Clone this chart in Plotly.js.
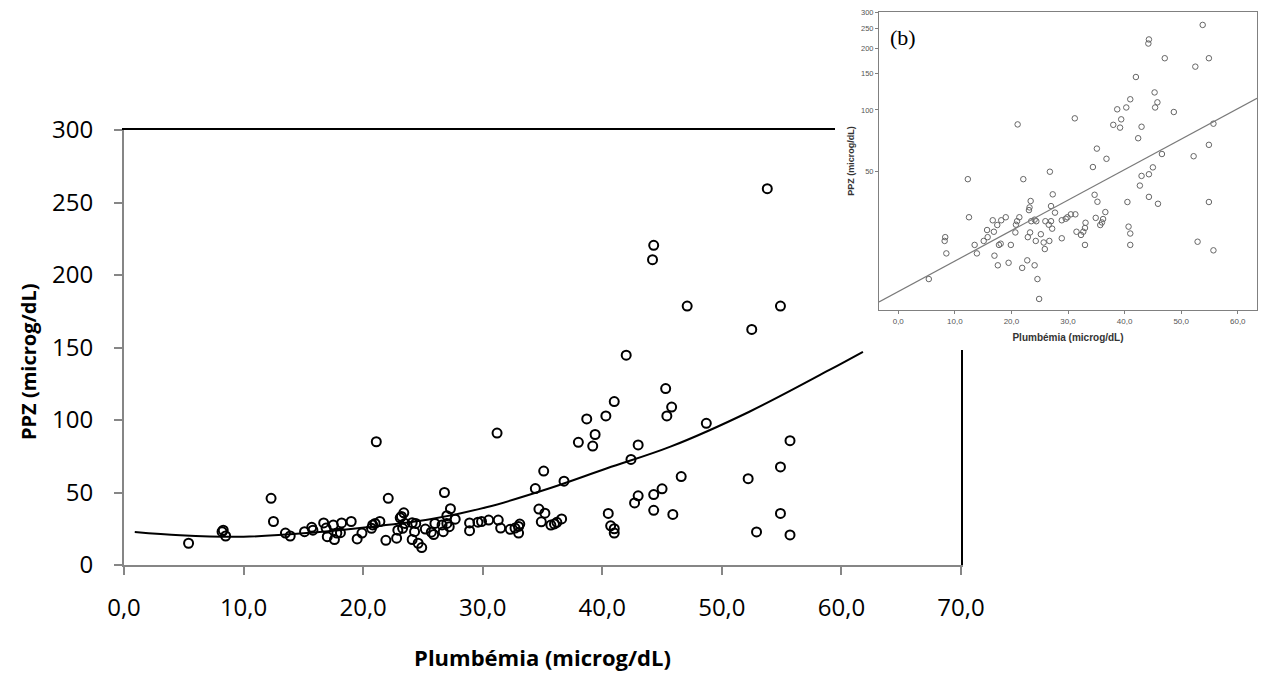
<!DOCTYPE html>
<html><head><meta charset="utf-8">
<script src="https://cdn.plot.ly/plotly-3.0.1.min.js"></script>
<style>html,body{margin:0;padding:0;background:#fff}#chart{width:1266px;height:675px}</style>
</head><body><div id="chart"></div>
<script>
// ---- data ----
const plumbemia = [5.4, 8.2, 8.3, 8.5, 12.3, 12.5, 13.5, 13.9, 15.1, 15.7, 15.8, 16.7, 16.9, 17.0, 17.5, 17.6, 17.8, 18.1, 18.2, 19.0,
  19.5, 19.9, 20.7, 20.8, 21.0, 21.1, 21.4, 21.9, 22.1, 22.8, 22.9, 23.1, 23.2, 23.4, 23.3, 23.5, 24.1, 24.4, 24.3, 24.1,
  24.6, 24.9, 25.2, 25.7, 25.9, 26.0, 26.6, 26.7, 26.8, 27.0, 27.2, 27.0, 27.3, 27.7, 28.9, 28.9, 29.6, 29.9, 30.5, 31.2,
  31.3, 31.5, 32.3, 32.7, 33.0, 33.1, 33.0, 34.4, 34.7, 35.2, 34.9, 35.1, 35.7, 36.0, 36.2, 36.6, 36.8, 38.0, 38.7, 39.2,
  39.4, 40.3, 40.5, 40.7, 41.0, 41.0, 41.0, 42.0, 42.4, 42.7, 43.0, 43.0, 44.2, 44.3, 44.3, 44.3, 45.0, 45.3, 45.4, 45.8,
  45.9, 46.6, 47.1, 48.7, 52.2, 52.5, 52.9, 53.8, 54.9, 54.9, 54.9, 55.7, 55.7];
const ppz = [15, 23, 24, 20, 46, 30, 22, 20, 23, 26, 24, 29, 25.5, 19.5, 27.5, 17.5, 22, 22.3, 29, 30,
  18, 22, 25.3, 27.6, 28.7, 85, 30, 17, 46, 18.5, 24, 32.5, 33.5, 36, 25.3, 28.7, 29.2, 28.7, 23, 17.5,
  15, 12, 24.8, 22.6, 21, 28.7, 27.6, 23, 50, 28.7, 26.4, 34, 38.8, 31.6, 29, 23.7, 29.5, 30, 31, 91,
  31, 25.5, 24.6, 25.5, 26.6, 28.2, 22, 52.7, 38.6, 35.7, 29.8, 64.8, 27.5, 28.3, 29.4, 31.8, 57.8, 84.6, 100.7, 82,
  90, 102.8, 35.6, 27, 25, 22, 112.7, 144.7, 72.8, 42.8, 47.7, 82.8, 210.6, 220.5, 48.6, 37.7, 52.5, 121.7, 102.8, 108.9,
  34.9, 61, 178.6, 97.7, 59.5, 162.5, 22.8, 259.5, 178.6, 67.6, 35.6, 85.7, 20.7];

// fitted curve of the main chart
const curveX = [0.9, 4.7, 10.0, 15.6, 20.3, 25.6, 30.3, 35.6, 40.4, 45.7, 52.3, 59.0, 61.8];
const curveY = [22.8, 20.5, 19.5, 22.2, 26.0, 31.5, 39.8, 52.9, 66.7, 81.6, 105.7, 134.5, 147];

// fitted line of inset (b), end points
const fitBX = [-3.4, 63.4];
const fitBY = [11.6, 114];

const xTickVals = [0, 10, 20, 30, 40, 50, 60, 70];
const xTickText = ['0,0', '10,0', '20,0', '30,0', '40,0', '50,0', '60,0', '70,0'];
const yTickVals = [0, 50, 100, 150, 200, 250, 300];
const insetXTickVals = [0, 10, 20, 30, 40, 50, 60];
const insetXTickText = ['0,0', '10,0', '20,0', '30,0', '40,0', '50,0', '60,0'];
const insetYTickVals = [50, 100, 150, 200, 250, 300];
const insetYTickText = ['50', '100', '150', '200', '250', '300'];

// ---- layout helpers (pixel -> paper) ----
const W = 1266, H = 675;
const px = v => v / W;
const py = v => 1 - v / H;

const FONT = 'Open Sans, sans-serif';
const SMALL = 'Liberation Sans, Arial, sans-serif';
const AX = '#868686';

const traces = [
  { x: plumbemia, y: ppz, type: 'scatter', mode: 'markers', xaxis: 'x', yaxis: 'y',
    marker: { symbol: 'circle-open', size: 9, color: '#000', line: { width: 2, color: '#000' } } },
  { x: curveX, y: curveY, type: 'scatter', mode: 'lines', xaxis: 'x', yaxis: 'y',
    line: { color: '#000', width: 2, shape: 'spline' } },
  { x: [], y: [], type: 'scatter', mode: 'markers', xaxis: 'x4', yaxis: 'y' },
  { x: [], y: [], type: 'scatter', mode: 'markers', xaxis: 'x', yaxis: 'y4' },
  { x: [], y: [], type: 'scatter', mode: 'markers', xaxis: 'x2', yaxis: 'y2' },
  { x: plumbemia, y: ppz, type: 'scatter', mode: 'markers', xaxis: 'x3', yaxis: 'y3',
    marker: { symbol: 'circle-open', size: 5.5, color: '#666', line: { width: 1, color: '#666' } } },
  { x: fitBX, y: fitBY, type: 'scatter', mode: 'lines', xaxis: 'x3', yaxis: 'y3',
    line: { color: '#7a7a7a', width: 1.2 } }
];

const layout = {
  width: W, height: H, margin: { l: 0, r: 0, t: 0, b: 0 },
  paper_bgcolor: '#fff', plot_bgcolor: '#fff', showlegend: false, hovermode: false,
  xaxis: {
    domain: [px(124), px(961)], anchor: 'y', range: [0, 70],
    showline: true, linecolor: AX, linewidth: 2, showgrid: false, zeroline: false,
    ticks: 'outside', ticklen: 8, tickwidth: 2, tickcolor: AX,
    tickmode: 'array', tickvals: xTickVals, ticktext: xTickText, ticklabelstandoff: 12,
    tickfont: { family: FONT, size: 24, color: '#000' },
    title: { text: 'Plumbémia (microg/dL)', standoff: 29, font: { family: FONT, size: 22, weight: 'bold', color: '#000' } }
  },
  yaxis: {
    domain: [py(565), py(130)], anchor: 'x', range: [0, 300],
    showline: true, linecolor: AX, linewidth: 2, showgrid: false, zeroline: false,
    ticks: 'outside', ticklen: 8, tickwidth: 2, tickcolor: AX,
    tickmode: 'array', tickvals: yTickVals, ticklabelstandoff: 16,
    tickfont: { family: FONT, size: 24, color: '#000' }
  },
  xaxis4: { overlaying: 'x', side: 'top', anchor: 'y', range: [0, 70], showline: true, linecolor: '#000', linewidth: 2,
    showticklabels: false, ticks: '', showgrid: false, zeroline: false },
  yaxis4: { overlaying: 'y', side: 'right', anchor: 'x', range: [0, 300], showline: true, linecolor: '#000', linewidth: 2,
    showticklabels: false, ticks: '', showgrid: false, zeroline: false },
  xaxis2: { domain: [px(835), 1], anchor: 'y2', range: [0, 1], visible: false },
  yaxis2: { domain: [py(350), 1], anchor: 'x2', range: [0, 1], visible: false },
  xaxis3: {
    domain: [px(879), px(1257)], anchor: 'y3', range: [-3.4, 63.4],
    showline: true, mirror: true, linecolor: '#808080', linewidth: 1, showgrid: false, zeroline: false,
    ticks: 'outside', ticklen: 3, tickwidth: 1, tickcolor: '#808080',
    tickmode: 'array', tickvals: insetXTickVals, ticktext: insetXTickText,
    tickfont: { family: SMALL, size: 8, color: '#555' },
    title: { text: 'Plumbémia (microg/dL)', standoff: 9, font: { family: SMALL, size: 10, weight: 'bold', color: '#333' } }
  },
  yaxis3: {
    domain: [py(310), py(12)], anchor: 'x3', type: 'log', range: [Math.log10(10.6), Math.log10(300)],
    showline: true, mirror: true, linecolor: '#808080', linewidth: 1, showgrid: false, zeroline: false,
    ticks: 'outside', ticklen: 3, tickwidth: 1, tickcolor: '#808080',
    tickmode: 'array', tickvals: insetYTickVals, ticktext: insetYTickText,
    tickfont: { family: SMALL, size: 7.5, color: '#555' },
    title: { text: 'PPZ (microg/dL)', standoff: 4, font: { family: SMALL, size: 9, weight: 'bold', color: '#333' } }
  },
  annotations: [
    { text: 'PPZ (microg/dL)', xref: 'paper', yref: 'paper', x: px(28), y: py(362), xanchor: 'center', yanchor: 'middle',
      textangle: -90, showarrow: false, font: { family: FONT, size: 20, weight: 'bold', color: '#000' } },
    { text: '(b)', xref: 'paper', yref: 'paper', x: px(903), y: py(37), xanchor: 'center', yanchor: 'middle',
      showarrow: false, font: { family: 'Liberation Serif, Times New Roman, serif', size: 22, color: '#000' } }
  ]
};

Plotly.newPlot('chart', traces, layout, { staticPlot: true, displayModeBar: false });
</script>
</body></html>
